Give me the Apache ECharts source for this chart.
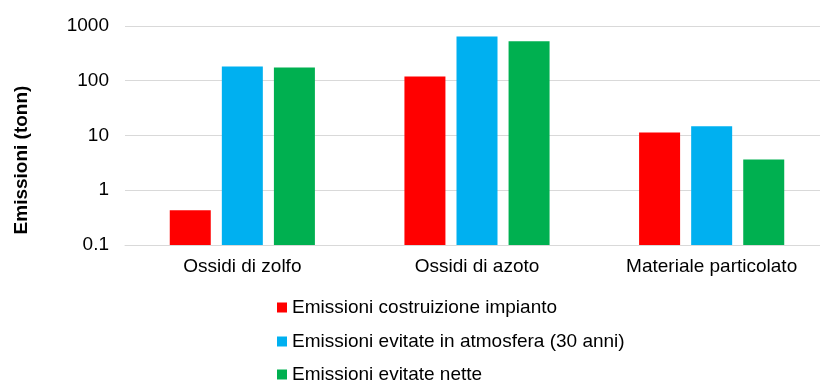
<!DOCTYPE html>
<html>
<head>
<meta charset="utf-8" />
<title>Emissioni</title>
<style>
  html, body { margin: 0; padding: 0; background: #fff; overflow: hidden; }
  /* plot area runs a little past the right edge, like the original */
  #chart { width: 829px; height: 381px; }
</style>
</head>
<body>
<div id="chart"></div>
<script src="https://cdn.jsdelivr.net/npm/echarts@6/dist/echarts.min.js"></script>
<script>
var categories = ['Ossidi di zolfo', 'Ossidi di azoto', 'Materiale particolato'];
var seriesNames = ['Emissioni costruizione impianto', 'Emissioni evitate in atmosfera (30 anni)', 'Emissioni evitate nette'];
var costruzione = [0.43, 120, 11.4];
var evitateAtm = [182, 643, 14.7];
var evitateNette = [175, 528, 3.66];
var colors = ['#ff0000', '#00b0f0', '#00b050'];

var font = 'Liberation Sans, Arial, sans-serif';
var chart = echarts.init(document.getElementById('chart'));

function makeBar(name, data, color) {
  return {
    name: name,
    type: 'bar',
    barWidth: 41,
    barGap: '27%',
    itemStyle: { color: color },
    data: data
  };
}

// one legend per row, so the list never wraps into columns
function makeLegend(name, top) {
  return {
    orient: 'vertical',
    left: 272,
    top: top,
    itemWidth: 10,
    itemHeight: 10,
    icon: 'rect',
    textStyle: { color: '#000', fontSize: 19, fontFamily: font },
    data: [name]
  };
}

var option = {
  animation: false,
  color: colors,
  grid: { left: 125, right: 0, top: 26, bottom: 136 },
  xAxis: {
    type: 'category',
    data: categories,
    axisTick: { show: false },
    axisLine: { lineStyle: { color: '#d9d9d9', width: 1 } },
    axisLabel: { color: '#000', fontSize: 19, fontFamily: font, margin: 12 }
  },
  yAxis: {
    type: 'log',
    logBase: 10,
    min: 0.1,
    max: 1000,
    startValue: 0.1,
    axisLine: { show: false },
    axisTick: { show: false },
    splitLine: { lineStyle: { color: '#d9d9d9', width: 1 } },
    axisLabel: {
      color: '#000', fontSize: 19, fontFamily: font, margin: 16,
      formatter: function (v) { return String(v); }
    }
  },
  legend: [
    makeLegend(seriesNames[0], 293),
    makeLegend(seriesNames[1], 327),
    makeLegend(seriesNames[2], 360)
  ],
  graphic: [{
    type: 'text',
    x: 22,
    y: 160,
    rotation: Math.PI / 2,
    style: {
      text: 'Emissioni (tonn)',
      font: 'bold 19px Liberation Sans, Arial, sans-serif',
      fill: '#000',
      textAlign: 'center',
      textVerticalAlign: 'middle'
    }
  }],
  series: [
    makeBar(seriesNames[0], costruzione, colors[0]),
    makeBar(seriesNames[1], evitateAtm, colors[1]),
    makeBar(seriesNames[2], evitateNette, colors[2])
  ]
};
chart.setOption(option);
</script>
</body>
</html>
